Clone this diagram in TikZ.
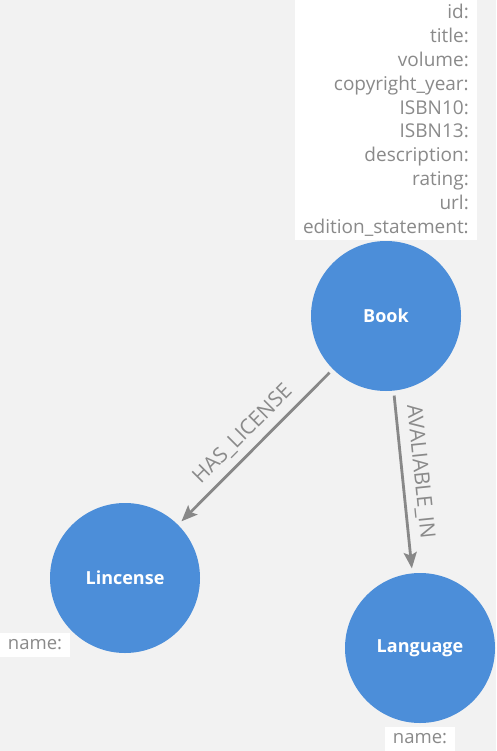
\documentclass[tikz,border=0pt]{standalone}
\usepackage{fontspec}
\setmainfont{Open Sans}
\usetikzlibrary{arrows.meta}
\definecolor{nodeblue}{HTML}{4C8ED9}
\definecolor{bggrey}{HTML}{F2F2F2}
\definecolor{relgrey}{HTML}{888888}
\definecolor{textgrey}{HTML}{8A8A8A}
\tikzset{
  entity/.style={circle, fill=nodeblue, minimum size=150pt, inner sep=0pt, outer sep=5pt, text=white, font=\fontsize{18}{20}\selectfont\bfseries},
  props/.style={fill=white, text=textgrey, font=\fontsize{19}{23.9}\selectfont, align=right},
  namebox/.style={fill=white, text=textgrey, font=\fontsize{18.5}{20}\selectfont, minimum width=70pt, minimum height=24pt, inner sep=0pt},
  rel/.style={-{Stealth[length=16pt,width=13pt,inset=3pt]}, line width=2.8pt, draw=relgrey},
  rellabel/.style={text=textgrey, font=\fontsize{21}{24}\selectfont, sloped, above}
}
\begin{document}
\begin{tikzpicture}[x=1pt,y=-1pt]
                \fill[bggrey] (0,0) rectangle (496,751);
                \useasboundingbox (0,0) rectangle (496,751);

                \node[props, text width=166pt, inner xsep=8pt, minimum height=240pt, anchor=north east] (bookprops) at (477,0) {id:\\title:\\volume:\\copyright\_year:\\ISBN10:\\ISBN13:\\description:\\rating:\\url:\\edition\_statement:};
                \node[entity] (book) at (386,316) {Book};
                \node[entity] (license) at (125,578) {Lincense};
                \node[entity] (language) at (420,648) {Language};
                \node[namebox] (licenseprops) at (35,645) {name:};
                \node[namebox] (languageprops) at (420,739) {name:};

                \draw[rel] (book) to node[rellabel, pos=0.5, above=4pt] {HAS\_LICENSE} (license);
                \draw[rel] (book) to node[rellabel, pos=0.45, above=4pt] {AVALIABLE\_IN} (language);
            \end{tikzpicture}
\end{document}
